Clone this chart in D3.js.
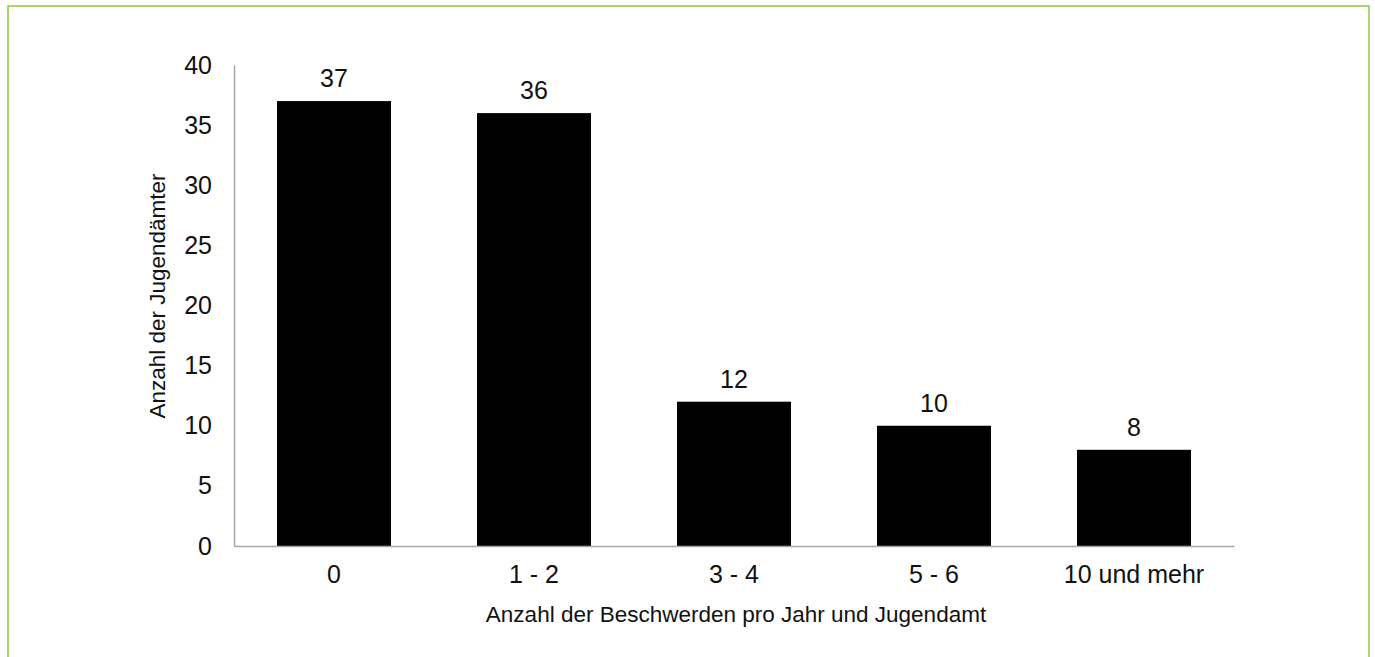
<!DOCTYPE html>
<html>
<head>
<meta charset="utf-8">
<script src="https://cdn.jsdelivr.net/npm/d3@7"></script>
<style>
  html, body { margin: 0; padding: 0; background: #fff; }
  svg { display: block; }
  text { font-family: "Liberation Sans", Arial, sans-serif; fill: #111; }
</style>
</head>
<body>
<svg id="chart" width="1375" height="657"></svg>
<script>
const categories = ["0", "1 - 2", "3 - 4", "5 - 6", "10 und mehr"];
const values = [37, 36, 12, 10, 8];
const yTicks = [0, 5, 10, 15, 20, 25, 30, 35, 40];
const xTitle = "Anzahl der Beschwerden pro Jahr und Jugendamt";
const yTitle = "Anzahl der Jugendämter";

const svg = d3.select("#chart");

// green frame
svg.append("rect")
  .attr("x", 8).attr("y", 6)
  .attr("width", 1361).attr("height", 700)
  .attr("fill", "none")
  .attr("stroke", "#8cc83c")
  .attr("stroke-width", 1.5);

const plotLeft = 234, plotRight = 1234, plotTop = 65, plotBottom = 546;

const x = d3.scaleBand().domain(categories).range([plotLeft, plotRight]).paddingInner(0.43).paddingOuter(0.215);
const y = d3.scaleLinear().domain([0, 40]).range([plotBottom, plotTop]);

// bars
svg.append("g").selectAll("rect")
  .data(values)
  .join("rect")
  .attr("x", (d, i) => x(categories[i]))
  .attr("y", d => y(d))
  .attr("width", x.bandwidth())
  .attr("height", d => y(0) - y(d))
  .attr("fill", "#000");

// data labels
svg.append("g").selectAll("text")
  .data(values)
  .join("text")
  .attr("x", (d, i) => x(categories[i]) + x.bandwidth() / 2)
  .attr("y", d => y(d) - 14)
  .attr("text-anchor", "middle")
  .attr("font-size", 25)
  .text(d => d);

// y axis
const yAxis = d3.axisLeft(y).tickValues(yTicks).tickSize(0).tickPadding(22);
const gy = svg.append("g").attr("transform", `translate(${plotLeft},0)`).call(yAxis);
gy.select(".domain").attr("stroke", "#a6a6a6").attr("stroke-width", 1.5);
gy.selectAll("text").attr("font-size", 25).attr("fill", "#111")
  .attr("font-family", "'Liberation Sans', Arial, sans-serif");

// x axis
const xAxis = d3.axisBottom(x).tickSize(0).tickPadding(19);
const gx = svg.append("g").attr("transform", `translate(0,${plotBottom})`).call(xAxis);
gx.select(".domain").attr("stroke", "#a6a6a6").attr("stroke-width", 1.5);
gx.selectAll("text").attr("font-size", 25).attr("fill", "#111")
  .attr("font-family", "'Liberation Sans', Arial, sans-serif");

// axis titles
svg.append("text")
  .attr("x", 736)
  .attr("y", 622)
  .attr("text-anchor", "middle")
  .attr("font-size", 22.5)
  .text(xTitle);

svg.append("text")
  .attr("transform", `translate(165,296) rotate(-90)`)
  .attr("text-anchor", "middle")
  .attr("font-size", 22.5)
  .text(yTitle);
</script>
</body>
</html>
